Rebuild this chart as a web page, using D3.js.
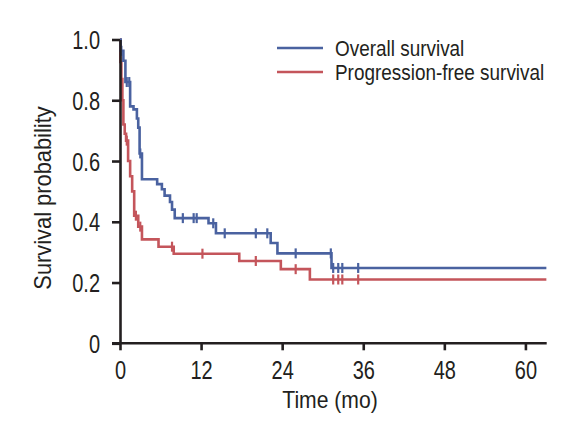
<!DOCTYPE html>
<html><head><meta charset="utf-8">
<script src="https://cdn.jsdelivr.net/npm/d3@7"></script>
<style>
html,body{margin:0;padding:0;background:#fff;}
svg text{font-family:"Liberation Sans",Arial,sans-serif;fill:#231f20;}
</style></head>
<body><svg id="c" width="581" height="439"></svg>
<script>
// Overall survival: step times (months) and survival after each step
const osTime = [0, 0.1, 0.5, 0.8, 1.5, 2.0, 2.5, 2.7, 2.9, 3.25, 5.5, 6.2, 6.6, 7.4, 7.7, 8.1, 13.1, 14.2, 22.3, 23.3, 31.3];
const osSurv = [1.0, 0.963, 0.93, 0.86, 0.78, 0.77, 0.74, 0.71, 0.625, 0.54, 0.524, 0.507, 0.486, 0.465, 0.44, 0.412, 0.395, 0.362, 0.33, 0.296, 0.248];
const osCensor = [0.2, 1.0, 1.37, 3.0, 9.3, 10.9, 11.35, 13.8, 15.5, 20.1, 21.8, 26.0, 31.2, 31.55, 32.3, 32.9, 35.25];
// Progression-free survival
const pfsTime = [0, 0.05, 0.2, 0.35, 0.5, 0.7, 0.9, 1.2, 1.5, 1.8, 2.1, 2.7, 3.25, 5.7, 7.95, 17.65, 23.8, 28.1];
const pfsSurv = [1.0, 0.926, 0.87, 0.8, 0.72, 0.69, 0.667, 0.6, 0.55, 0.5, 0.42, 0.384, 0.342, 0.318, 0.295, 0.271, 0.244, 0.21];
const pfsCensor = [1.0, 2.35, 3.0, 7.7, 12.2, 20.1, 26.0, 31.55, 32.3, 32.9, 35.25];
const endTime = 63.1;
const xTicks = [0, 12, 24, 36, 48, 60];
const yTicks = [0, 0.2, 0.4, 0.6, 0.8, 1.0];
const seriesNames = ["Overall survival", "Progression-free survival"];
const seriesColors = ["#4a62a0", "#c4555b"];

const svg = d3.select("#c");
const x = d3.scaleLinear().domain([0, 63.15]).range([120, 546.7]);
const y = d3.scaleLinear().domain([0, 1]).range([343.3, 39.5]);

function stepAt(times, surv, t) {
  let s = surv[0];
  for (let i = 0; i < times.length; i++) if (times[i] <= t) s = surv[i];
  return s;
}

const line = d3.line().x(d => x(d[0])).y(d => y(d[1])).curve(d3.curveStepAfter);

const series = [
  {t: osTime, s: osSurv, c: osCensor, color: seriesColors[0]},
  {t: pfsTime, s: pfsSurv, c: pfsCensor, color: seriesColors[1]}
];

[series[1], series[0]].forEach(sr => {
  const pts = sr.t.map((t, i) => [t, sr.s[i]]);
  pts.push([endTime, sr.s[sr.s.length - 1]]);
  svg.append("path").attr("d", line(pts)).attr("fill", "none")
    .attr("stroke", sr.color).attr("stroke-width", 2.6);
  svg.append("g").selectAll("line").data(sr.c).join("line")
    .attr("x1", d => x(d)).attr("x2", d => x(d))
    .attr("y1", d => y(stepAt(sr.t, sr.s, d)) - 5)
    .attr("y2", d => y(stepAt(sr.t, sr.s, d)) + 5)
    .attr("stroke", sr.color).attr("stroke-width", 2.2);
});

// Axes
const TS = 0.8; // horizontal condensing of tick labels
const xAxis = svg.append("g").attr("transform", "translate(0,343.3)")
  .call(d3.axisBottom(x).tickValues(xTicks).tickSize(7).tickPadding(6).tickSizeOuter(0));
const yAxis = svg.append("g").attr("transform", "translate(120,0)")
  .call(d3.axisLeft(y).tickValues(yTicks).tickSize(8).tickPadding(11).tickSizeOuter(0)
    .tickFormat(d => d === 0 ? "0" : d3.format(".1f")(d)));
[xAxis, yAxis].forEach(a => {
  a.select(".domain").attr("stroke", "#231f20").attr("stroke-width", 2.6);
  a.selectAll(".tick line").attr("stroke", "#231f20").attr("stroke-width", 2.6);
  a.selectAll(".tick text").attr("font-size", 25).attr("fill", "#231f20")
    .attr("transform", `scale(${TS},1)`);
});
xAxis.selectAll(".tick text").attr("y", 35.7).attr("dy", 0);
yAxis.selectAll(".tick text").attr("x", -20 / TS).attr("dy", "0.36em");
xAxis.select(".domain").attr("d", `M${x(0) - 8},0H${x(63.15)}`);

// Axis titles
svg.append("text").attr("transform", "translate(330,408) scale(0.9,1)")
  .attr("text-anchor", "middle").attr("font-size", 23.5).text("Time (mo)");
svg.append("text").attr("transform", "translate(51,198) rotate(-90) scale(0.95,1)")
  .attr("text-anchor", "middle").attr("font-size", 23).text("Survival probability");

// Legend
const leg = svg.append("g");
seriesNames.forEach((n, i) => {
  const yy = 48 + i * 24;
  leg.append("line").attr("x1", 277).attr("x2", 323).attr("y1", yy).attr("y2", yy)
    .attr("stroke", seriesColors[i]).attr("stroke-width", 2.6);
  leg.append("text").attr("transform", `translate(335,${yy + 8.2}) scale(0.88,1)`)
    .attr("font-size", 21.5).text(n);
});
</script></body></html>
